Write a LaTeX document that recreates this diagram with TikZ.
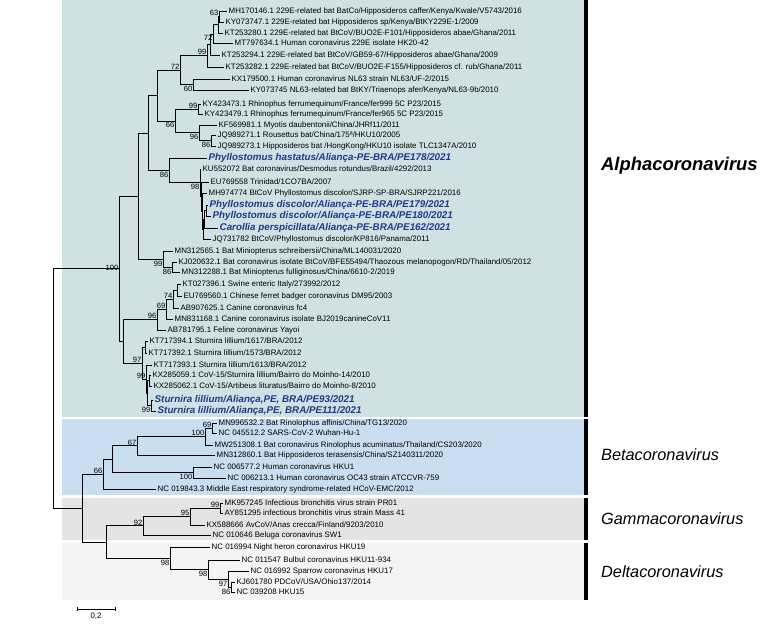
\documentclass[tikz,border=0pt]{standalone}
\usepackage{fontspec}
\setmainfont{Liberation Sans}
\usetikzlibrary{positioning}
\definecolor{alphabg}{RGB}{207,225,226}
\definecolor{betabg}{RGB}{201,222,241}
\definecolor{gammabg}{RGB}{228,228,228}
\definecolor{deltabg}{RGB}{244,244,244}
\definecolor{newblue}{RGB}{30,58,138}
\tikzset{
    tip/.style={
           anchor=west,
           inner sep=1.5pt,
           font=\fontsize{7.9}{9}\selectfont,
           text height=5.7pt,
           text depth=1.5pt,
           },
    newtip/.style={
           tip,
           font=\fontsize{9.8}{11}\selectfont\bfseries\itshape,
           text=newblue,
           text height=7pt,
           text depth=1.9pt,
           },
    boot/.style={anchor=south east, inner sep=0.5pt, font=\fontsize{7.6}{9}\selectfont},
    bootb/.style={boot, anchor=north east, yshift=-1pt},
    branch/.style={draw=black, line width=0.8pt},
    clade/.style={anchor=west, inner sep=0pt, font=\fontsize{16.3}{18}\selectfont\itshape},
}

\begin{document}
\begin{tikzpicture}[x=1pt,y=-1pt]
\useasboundingbox (0,0) rectangle (768,625);
% clade panels
\fill[alphabg] (62,0) rectangle (584,416.5);
\fill[betabg] (62,419) rectangle (584,495);
\fill[gammabg] (62,497.5) rectangle (584,540);
\fill[deltabg] (62,542.5) rectangle (584,600);
\fill[black] (584,0) rectangle (588,416.5);
\fill[black] (584,419) rectangle (588,495);
\fill[black] (584,497.5) rectangle (588,540);
\fill[black] (584,542.5) rectangle (588,600);
\node[clade,font=\fontsize{18.4}{20}\selectfont\bfseries\itshape] (alphalab) at (601,166) {Alphacoronavirus};
\node[clade] (betalab) at (601,455) {Betacoronavirus};
\node[clade] (gammalab) at (601,519) {Gammacoronavirus};
\node[clade] (deltalab) at (601,572) {Deltacoronavirus};

% taxa
\node[tip] (t1) at (227,11) {MH170146.1 229E-related bat BatCo/Hipposideros caffer/Kenya/Kwale/V5743/2016};
\node[tip] (t2) at (224,22) {KY073747.1 229E-related bat Hipposideros sp/Kenya/BtKY229E-1/2009};
\node[tip] (t3) at (223,33) {KT253280.1 229E-related bat BtCoV/BUO2E-F101/Hipposideros abae/Ghana/2011};
\node[tip] (t4) at (233,43) {MT797634.1 Human coronavirus 229E isolate HK20-42};
\node[tip] (t5) at (220,55) {KT253294.1 229E-related bat BtCoV/GB59-67/Hipposideros abae/Ghana/2009};
\node[tip] (t6) at (224,67) {KT253282.1 229E-related bat BtCoV/BUO2E-F155/Hipposideros cf. rub/Ghana/2011};
\node[tip] (t7) at (230,79) {KX179500.1 Human coronavirus NL63 strain NL63/UF-2/2015};
\node[tip] (t8) at (249,90) {KY073745 NL63-related bat BtKY/Triaenops afer/Kenya/NL63-9b/2010};
\node[tip] (t9) at (201,104) {KY423473.1 Rhinophus ferrumequinum/France/fer999 5C P23/2015};
\node[tip] (t10) at (203,114) {KY423479.1 Rhinophus ferrumequinum/France/fer965 5C P23/2015};
\node[tip] (t11) at (217,125) {KF569981.1 Myotis daubentonii/China/JHRf11/2011};
\node[tip] (t12) at (216,135) {JQ989271.1 Rousettus bat/China/175ª/HKU10/2005};
\node[tip] (t13) at (216,146) {JQ989273.1 Hipposideros bat /HongKong/HKU10 isolate TLC1347A/2010};
\node[newtip] (t14) at (207,158) {Phyllostomus hastatus/Aliança-PE-BRA/PE178/2021};
\node[tip] (t15) at (201,169) {KU552072 Bat coronavirus/Desmodus rotundus/Brazil/4292/2013};
\node[tip] (t16) at (209,182) {EU769558 Trinidad/1CO7BA/2007};
\node[tip] (t17) at (207,193) {MH974774 BtCoV Phyllostomus discolor/SJRP-SP-BRA/SJRP221/2016};
\node[newtip] (t18) at (208,205) {Phyllostomus discolor/Aliança-PE-BRA/PE179/2021};
\node[newtip] (t19) at (211,216) {Phyllostomus discolor/Aliança-PE-BRA/PE180/2021};
\node[newtip] (t20) at (218,228) {Carollia perspicillata/Aliança-PE-BRA/PE162/2021};
\node[tip] (t21) at (211,239) {JQ731782 BtCoV/Phyllostomus discolor/KP816/Panama/2011};
\node[tip] (t22) at (173,251) {MN312565.1 Bat Miniopterus schreibersii/China/ML140031/2020};
\node[tip] (t23) at (177,262) {KJ020632.1 Bat coronavirus isolate BtCoV/BFE55494/Thaozous melanopogon/RD/Thailand/05/2012};
\node[tip] (t24) at (180,272) {MN312288.1 Bat Miniopterus fulliginosus/China/6610-2/2019};
\node[tip] (t25) at (181,284) {KT027396.1 Swine enteric Italy/273992/2012};
\node[tip] (t26) at (182,296) {EU769560.1 Chinese ferret badger coronavirus DM95/2003};
\node[tip] (t27) at (179,308) {AB907625.1 Canine coronavirus fc4};
\node[tip] (t28) at (173,319) {MN831168.1 Canine coronavirus isolate BJ2019canineCoV11};
\node[tip] (t29) at (166,330) {AB781795.1 Feline coronavirus Yayoi};
\node[tip] (t30) at (148,341) {KT717394.1 Sturnira lillium/1617/BRA/2012};
\node[tip] (t31) at (147,353) {KT717392.1 Sturnira lillium/1573/BRA/2012};
\node[tip] (t32) at (152,365) {KT717393.1 Sturnira lillium/1613/BRA/2012};
\node[tip] (t33) at (151,375) {KX285059.1 CoV-15/Sturnira lillium/Bairro do Moinho-14/2010};
\node[tip] (t34) at (152,386) {KX285062.1 CoV-15/Artibeus lituratus/Bairro do Moinho-8/2010};
\node[newtip] (t35) at (153,400) {Sturnira lillium/Aliança,PE, BRA/PE93/2021};
\node[newtip] (t36) at (156,411) {Sturnira lillium/Aliança,PE, BRA/PE111/2021};
\node[tip] (t37) at (217,423) {MN996532.2 Bat Rinolophus affinis/China/TG13/2020};
\node[tip] (t38) at (217,433) {NC 045512.2 SARS-CoV-2 Wuhan-Hu-1};
\node[tip] (t39) at (213,445) {MW251308.1 Bat coronavirus Rinolophus acuminatus/Thailand/CS203/2020};
\node[tip] (t40) at (215,455) {MN312860.1 Bat Hipposideros terasensis/China/SZ140311/2020};
\node[tip] (t41) at (212,467) {NC 006577.2 Human coronavirus HKU1};
\node[tip] (t42) at (226,478) {NC 006213.1 Human coronavirus OC43 strain ATCCVR-759};
\node[tip] (t43) at (156,489) {NC 019843.3 Middle East respiratory syndrome-related HCoV-EMC/2012};
\node[tip] (t44) at (223,503) {MK957245 Infectious bronchitis virus strain PR01};
\node[tip] (t45) at (223,513) {AY851295 infectious bronchitis virus strain Mass 41};
\node[tip] (t46) at (205,525) {KX588666 AvCoV/Anas crecca/Finland/9203/2010};
\node[tip] (t47) at (211,535) {NC 010646 Beluga coronavirus SW1};
\node[tip] (t48) at (210,547) {NC 016994 Night heron coronavirus HKU19};
\node[tip] (t49) at (240,560) {NC 011547 Bulbul coronavirus HKU11-934};
\node[tip] (t50) at (249,571) {NC 016992 Sparrow coronavirus HKU17};
\node[tip] (t51) at (235,582) {KJ601780 PDCoV/USA/Ohio137/2014};
\node[tip] (t52) at (235,592) {NC 039208 HKU15};

% inner nodes
\coordinate (n63) at (219,16.5);
\coordinate (n3) at (218,24.8);
\coordinate (n72a) at (213,33.9);
\coordinate (n5) at (210,44.4);
\coordinate (n99a) at (207,55.7);
\coordinate (n60) at (193,84.5);
\coordinate (n72b) at (180,70.1);
\coordinate (n99r) at (198,109);
\coordinate (n86h) at (211,140.5);
\coordinate (n96h) at (199,132.8);
\coordinate (n66) at (175,120.9);
\coordinate (ntop) at (157,95.5);
\coordinate (nd1) at (206,210.5);
\coordinate (nd2) at (204,219.3);
\coordinate (nd3) at (203,229.1);
\coordinate (nd4) at (202,211);
\coordinate (nd5) at (201,196.5);
\coordinate (n98p) at (200,182.8);
\coordinate (n86p) at (169,170.4);
\coordinate (nq) at (148,133);
\coordinate (n86m) at (172,267);
\coordinate (n99m) at (163,259);
\coordinate (np) at (138,196);
\coordinate (n2526) at (177,290);
\coordinate (n74) at (173,299);
\coordinate (n69) at (166,309);
\coordinate (n96c) at (157,319.5);
\coordinate (nsa) at (151,405.5);
\coordinate (nsb) at (149,380.5);
\coordinate (nsc) at (147.5,393);
\coordinate (nsd) at (146,379);
\coordinate (n3031) at (145,347);
\coordinate (nsf) at (142,363);
\coordinate (nb) at (123,341.3);
\coordinate (nalpha) at (119,268.6);
\coordinate (n3738) at (212,428);
\coordinate (nsar) at (205,436.5);
\coordinate (n67) at (137,445.8);
\coordinate (nemb) at (193,472.5);
\coordinate (nin) at (112,459.1);
\coordinate (nbeta) at (103,474.1);
\coordinate (n99g) at (220,508);
\coordinate (n95) at (190,516.5);
\coordinate (ngam) at (143,525.8);
\coordinate (n86d) at (231,587);
\coordinate (n97d) at (228,579);
\coordinate (n98d) at (208,569.5);
\coordinate (ndel) at (170,558.3);
\coordinate (ngd) at (106,542);
\coordinate (nbgd) at (82,508);
\coordinate (nroot) at (53,388);

% branches
\path[branch] (n63) |- (t1.west) (n63) |- (t2.west)
      (n3) |- (n63) (n3) |- (t3.west)
      (n72a) |- (n3) (n72a) |- (t4.west)
      (n5) |- (n72a) (n5) |- (t5.west)
      (n99a) |- (n5) (n99a) |- (t6.west)
      (n60) |- (t7.west) (n60) |- (t8.west)
      (n72b) |- (n99a) (n72b) |- (n60)
      (n99r) |- (t9.west) (n99r) |- (t10.west)
      (n86h) |- (t12.west) (n86h) |- (t13.west)
      (n96h) |- (t11.west) (n96h) |- (n86h)
      (n66) |- (n99r) (n66) |- (n96h)
      (ntop) |- (n72b) (ntop) |- (n66);
\path[branch] (nd1) |- (t18.west) (nd1) |- (t19.west)
      (nd2) |- (nd1) (nd2) |- (t20.west)
      (nd3) |- (nd2) (nd3) |- (t21.west)
      (nd4) |- (t17.west) (nd4) |- (nd3)
      (nd5) |- (t16.west) (nd5) |- (nd4)
      (n98p) |- (t15.west) (n98p) |- (nd5)
      (n86p) |- (t14.west) (n86p) |- (n98p)
      (nq) |- (ntop) (nq) |- (n86p)
      (n86m) |- (t23.west) (n86m) |- (t24.west)
      (n99m) |- (t22.west) (n99m) |- (n86m)
      (np) |- (nq) (np) |- (n99m);
\path[branch] (n2526) |- (t25.west) (n2526) |- (t26.west)
      (n74) |- (n2526) (n74) |- (t27.west)
      (n69) |- (n74) (n69) |- (t28.west)
      (n96c) |- (n69) (n96c) |- (t29.west)
      (nsa) |- (t35.west) (nsa) |- (t36.west)
      (nsb) |- (t33.west) (nsb) |- (t34.west)
      (nsc) |- (nsb) (nsc) |- (nsa)
      (nsd) |- (t32.west) (nsd) |- (nsc)
      (n3031) |- (t30.west) (n3031) |- (t31.west)
      (nsf) |- (n3031) (nsf) |- (nsd)
      (nb) |- (n96c) (nb) |- (nsf)
      (nalpha) |- (np) (nalpha) |- (nb);
\path[branch] (n3738) |- (t37.west) (n3738) |- (t38.west)
      (nsar) |- (n3738) (nsar) |- (t39.west)
      (n67) |- (nsar) (n67) |- (t40.west)
      (nemb) |- (t41.west) (nemb) |- (t42.west)
      (nin) |- (n67) (nin) |- (nemb)
      (nbeta) |- (nin) (nbeta) |- (t43.west);
\path[branch] (n99g) |- (t44.west) (n99g) |- (t45.west)
      (n95) |- (n99g) (n95) |- (t46.west)
      (ngam) |- (n95) (ngam) |- (t47.west)
      (n86d) |- (t51.west) (n86d) |- (t52.west)
      (n97d) |- (t50.west) (n97d) |- (n86d)
      (n98d) |- (t49.west) (n98d) |- (n97d)
      (ndel) |- (t48.west) (ndel) |- (n98d)
      (ngd) |- (ngam) (ngd) |- (ndel)
      (nbgd) |- (nbeta) (nbgd) |- (ngd)
      (nroot) |- (nalpha) (nroot) |- (nbgd);

% bootstrap values
\node[boot] at (n63) {63};
\node[bootb] at (n72a) {72};
\node[boot] at (n99a) {99};
\node[boot] at (n72b) {72};
\node[bootb] at (n60) {60};
\node[boot] at (n99r) {99};
\node[bootb] at (n66) {66};
\node[bootb] at (n96h) {96};
\node[bootb] at (n86h) {86};
\node[bootb] at (n86p) {86};
\node[bootb] at (n98p) {98};
\node[bootb] at (n99m) {99};
\node[bootb] at (n86m) {86};
\node[boot,yshift=-3pt] at (nalpha) {100};
\node[boot] at (n74) {74};
\node[boot] at (n69) {69};
\node[boot] at (n96c) {96};
\node[boot] at (nsf) {97};
\node[boot] at (nsd) {99};
\node[bootb] at (nsa) {99};
\node[boot] at (n3738) {69};
\node[boot] at (nsar) {100};
\node[boot] at (n67) {67};
\node[bootb] at (nemb) {100};
\node[boot] at (nbeta) {66};
\node[boot] at (n99g) {99};
\node[boot] at (n95) {95};
\node[boot] at (ngam) {92};
\node[bootb] at (ndel) {98};
\node[bootb] at (n98d) {98};
\node[bootb] at (n97d) {97};
\node[bootb] at (n86d) {86};

% scale bar
\coordinate (sbl) at (77,609);
\coordinate (sbr) at (115,609);
\draw[branch,line width=0.6pt] (sbl) -- (sbr);
\draw[branch,line width=0.6pt] ([yshift=-2pt]sbl) -- ([yshift=2pt]sbl);
\draw[branch,line width=0.6pt] ([yshift=-2pt]sbr) -- ([yshift=2pt]sbr);
\node[tip,anchor=north] (sblab) at (96,611) {0,2};
\end{tikzpicture}
\end{document}
